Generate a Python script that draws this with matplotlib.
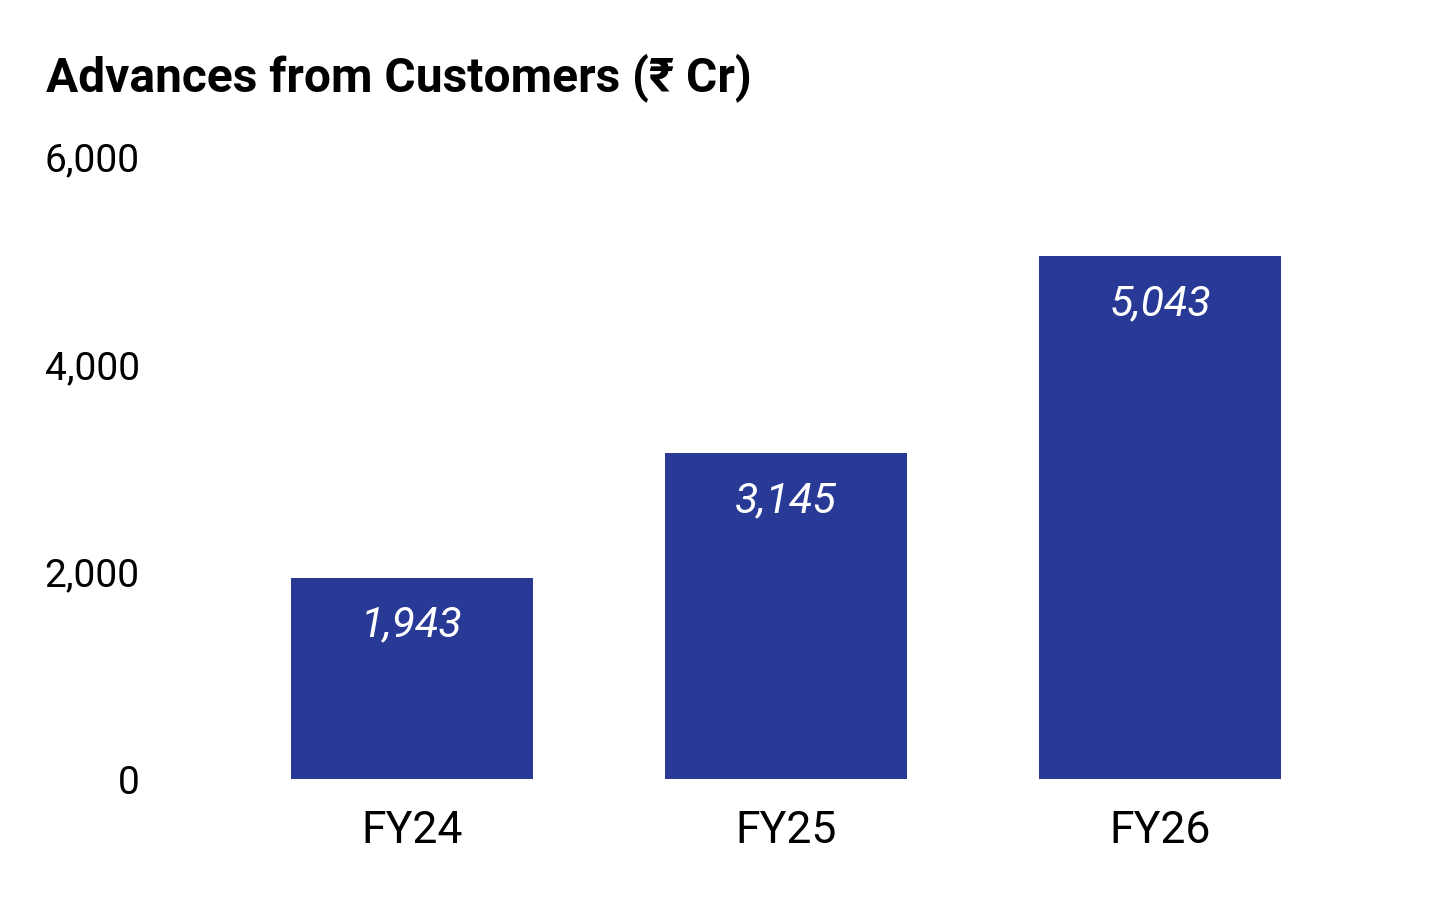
import matplotlib
matplotlib.use("Agg")
import matplotlib.pyplot as plt

categories = ["FY24", "FY25", "FY26"]
values = [1943, 3145, 5043]
value_labels = ["1,943", "3,145", "5,043"]
yticks = [0, 2000, 4000, 6000]
ytick_labels = ["0", "2,000", "4,000", "6,000"]
title = "Advances from Customers (₹ Cr)"

BAR = "#283A96"
FONT = ["Roboto", "DejaVu Sans"]
plt.rcParams["font.family"] = FONT

W, H = 1456, 901
fig = plt.figure(figsize=(W / 100, H / 100), dpi=100)
left_px, right_px = 160, 1420
top_px, bot_px = 157, 779
ax = fig.add_axes([left_px / W, 1 - bot_px / H, (right_px - left_px) / W, (bot_px - top_px) / H])

centers_px = [412, 786, 1160]
step = centers_px[1] - centers_px[0]
x0 = -(centers_px[0] - left_px) / step
x1 = (right_px - centers_px[0]) / step
xs = list(range(len(categories)))
bars = ax.bar(xs, values, width=242 / step, color=BAR, edgecolor="none")

ax.set_xlim(x0, x1)
ax.set_ylim(0, 6000)
ax.set_yticks(yticks)
ax.set_yticklabels(ytick_labels)
ax.set_xticks(xs)
ax.set_xticklabels(categories)
for s in ax.spines.values():
    s.set_visible(False)
ax.tick_params(axis="y", length=0, labelsize=28, pad=14.5, labelcolor="#000000")
ax.tick_params(axis="x", length=0, labelsize=32, pad=22, labelcolor="#000000")

for x, v, lab in zip(xs, values, value_labels):
    ax.annotate(lab, (x, v), xytext=(0, -19.5), textcoords="offset points",
                ha="center", va="top", color="white", fontsize=31, fontstyle="italic")

fig.text(46 / W, 1 - 91 / H, title, fontsize=34.5, fontweight="bold", ha="left", va="baseline", color="#000000")

fig.savefig("out.png", dpi=100, facecolor="white")
